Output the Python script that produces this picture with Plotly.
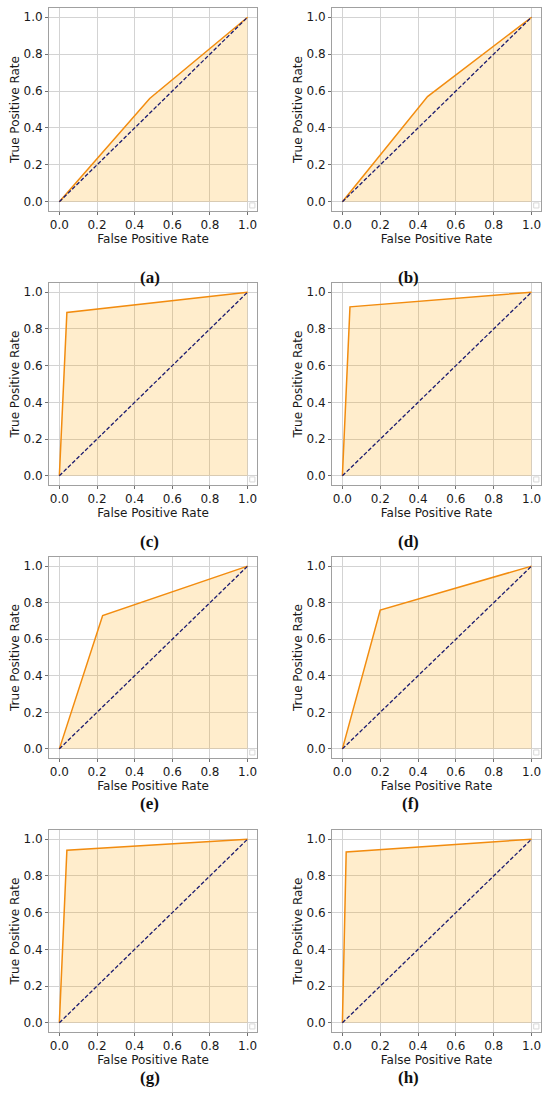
import plotly.graph_objects as go

# ROC knee points (fpr, tpr)
panel_labels = ["(a)", "(b)", "(c)", "(d)", "(e)", "(f)", "(g)", "(h)"]
fpr_knee = [0.48, 0.45, 0.04, 0.04, 0.23, 0.20, 0.04, 0.02]
tpr_knee = [0.56, 0.57, 0.89, 0.92, 0.73, 0.76, 0.94, 0.93]
tick_vals = [0.0, 0.2, 0.4, 0.6, 0.8, 1.0]
tick_text = ["0.0", "0.2", "0.4", "0.6", "0.8", "1.0"]

W, H = 550, 1102
# plot frames in pixels (left, right) and (top, bottom)
col_px = [(49, 257), (332, 541)]
row_px = [(8, 211), (283, 485), (557, 758), (830, 1032)]
caption_y = [266, 541, 815, 1089]
caption_x = [138, 421]

axis_font = {"family": "DejaVu Sans", "size": 12, "color": "#1a1a1a"}

fig = go.Figure()
layout = {}

for k in range(8):
    r, c = divmod(k, 2)
    n = k + 1
    xa = "x" if n == 1 else f"x{n}"
    ya = "y" if n == 1 else f"y{n}"

    # roc curve with shaded area underneath
    fig.add_trace(go.Scatter(
        x=[0.0, fpr_knee[k], 1.0], y=[0.0, tpr_knee[k], 1.0],
        mode="lines", fill="tozeroy", fillcolor="rgba(255,165,0,0.2)",
        line={"color": "#f28c0f", "width": 1.5},
        xaxis=xa, yaxis=ya, showlegend=False, hoverinfo="skip"))
    # chance line
    fig.add_trace(go.Scatter(
        x=[0.0, 1.0], y=[0.0, 1.0], mode="lines",
        line={"color": "#1a1a6e", "width": 1.3, "dash": "4px,2px"},
        xaxis=xa, yaxis=ya, showlegend=False, hoverinfo="skip"))

    left, right = col_px[c]
    top, bottom = row_px[r]
    common = dict(
        showgrid=True, gridcolor="#d3d3d3", gridwidth=1,
        showline=True, linecolor="#a0a0a0", linewidth=1, mirror=True,
        ticks="outside", ticklen=3, tickcolor="#707070",
        tickvals=tick_vals, ticktext=tick_text, ticklabeloverflow="allow",
        tickfont=axis_font, zeroline=False, fixedrange=True,
    )
    layout["xaxis" if n == 1 else f"xaxis{n}"] = dict(
        common, domain=[left / W, right / W], range=[-0.055, 1.05],
        anchor=ya,
        title={"text": "False Positive Rate", "standoff": 1, "font": axis_font})
    layout["yaxis" if n == 1 else f"yaxis{n}"] = dict(
        common, domain=[1 - bottom / H, 1 - top / H], range=[-0.05, 1.05],
        anchor=xa,
        title={"text": "True Positive Rate", "standoff": 1, "font": axis_font})

    # empty legend box left in the lower right corner
    fig.add_shape(type="rect", xref=f"{xa} domain", yref=f"{ya} domain",
                  x0=0.965, x1=0.99, y0=0.015, y1=0.04,
                  line={"color": "#d8d8d8", "width": 1}, fillcolor="white")

    fig.add_annotation(
        x=caption_x[c] / W, y=1 - caption_y[r] / H, xref="paper", yref="paper",
        text=f"<b>{panel_labels[k]}</b>", showarrow=False,
        font={"family": "Liberation Serif", "size": 17, "color": "#111"})

fig.update_layout(
    width=W, height=H, margin={"l": 0, "r": 0, "t": 0, "b": 0},
    paper_bgcolor="white", plot_bgcolor="white", **layout)

# page body margin would push the figure off the 550x1102 window
fig.write_html("out.html", config={"displayModeBar": False},
               post_script="document.body.style.margin='0';"
               "document.body.style.overflow='hidden';")
